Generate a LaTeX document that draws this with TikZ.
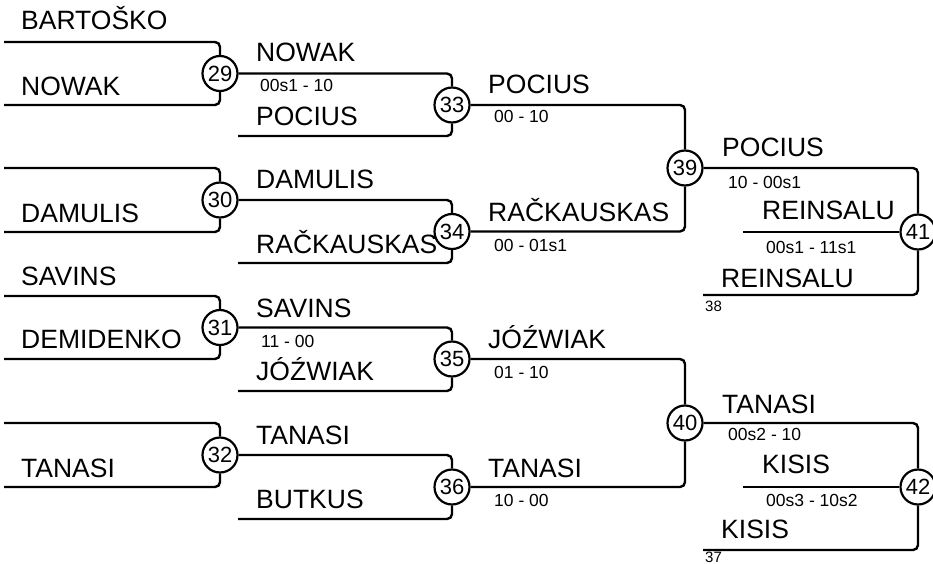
\documentclass[tikz,border=0pt]{standalone}
\usepackage{fontspec}
\setmainfont{Liberation Sans}
\begin{document}
\begin{tikzpicture}[x=1pt,y=-1pt,
  line width=2.4pt,
  match/.style={circle,draw,line width=2.2pt,minimum size=35pt,inner sep=0pt,fill=white,font=\fontsize{22}{24}\selectfont},
  nm/.style={anchor=base west,inner sep=0pt,font=\fontsize{26.5}{30}\selectfont},
  sc/.style={anchor=base west,inner sep=0pt,font=\fontsize{17.5}{20}\selectfont},
  sm/.style={anchor=base west,inner sep=0pt,font=\fontsize{15}{17}\selectfont},
  br/.style={rounded corners=5pt}]
\useasboundingbox (0,0) rectangle (933,564);
% match circles
\node[match] (c29) at (220,73.5) {29};
\node[match] (c30) at (220,200) {30};
\node[match] (c31) at (220,327.5) {31};
\node[match] (c32) at (220,455) {32};
\node[match] (c33) at (452,105) {33};
\node[match] (c34) at (452,231.5) {34};
\node[match] (c35) at (452,359) {35};
\node[match] (c36) at (452,487) {36};
\node[match] (c39) at (685,168) {39};
\node[match] (c40) at (685,423) {40};
\node[match] (c41) at (918,232) {41};
\node[match] (c42) at (918,487) {42};
% free ends
\coordinate (a1) at (4,42);
\coordinate (a2) at (4,105);
\coordinate (a3) at (4,168);
\coordinate (a4) at (4,232);
\coordinate (a5) at (4,296);
\coordinate (a6) at (4,359);
\coordinate (a7) at (4,423);
\coordinate (a8) at (4,487);
\coordinate (b1) at (238,136);
\coordinate (b2) at (238,263);
\coordinate (b3) at (238,391);
\coordinate (b4) at (238,519);
\coordinate (d1) at (703,295);
\coordinate (d2) at (703,550);
\coordinate (m1) at (743,232);
\coordinate (m2) at (743,487);
% round 1
\draw[br] (a1) -| (c29.north);
\draw[br] (a2) -| (c29.south);
\draw[br] (a3) -| (c30.north);
\draw[br] (a4) -| (c30.south);
\draw[br] (a5) -| (c31.north);
\draw[br] (a6) -| (c31.south);
\draw[br] (a7) -| (c32.north);
\draw[br] (a8) -| (c32.south);
% round 2
\draw[br] (c29.east) -| (c33.north);
\draw[br] (b1) -| (c33.south);
\draw[br] (c30.east) -| (c34.north);
\draw[br] (b2) -| (c34.south);
\draw[br] (c31.east) -| (c35.north);
\draw[br] (b3) -| (c35.south);
\draw[br] (c32.east) -| (c36.north);
\draw[br] (b4) -| (c36.south);
% round 3
\draw[br] (c33.east) -| (c39.north);
\draw[br] (c34.east) -| (c39.south);
\draw[br] (c35.east) -| (c40.north);
\draw[br] (c36.east) -| (c40.south);
% round 4
\draw[br] (c39.east) -| (c41.north);
\draw[br] (d1) -| (c41.south);
\draw (m1) -- (c41.west);
\draw[br] (c40.east) -| (c42.north);
\draw[br] (d2) -| (c42.south);
\draw (m2) -- (c42.west);
% names round 1
\node[nm] (n1) at (20,30) {BARTOŠKO};
\node[nm] (n2) at (20,96) {NOWAK};
\node[nm] (n3) at (20,222) {DAMULIS};
\node[nm] (n4) at (20,285) {SAVINS};
\node[nm] (n5) at (20,348) {DEMIDENKO};
\node[nm] (n6) at (20,477) {TANASI};
% names round 2
\node[nm] (n7) at (255,62) {NOWAK};
\node[nm] (n8) at (255,126) {POCIUS};
\node[nm] (n9) at (255,189) {DAMULIS};
\node[nm] (n10) at (255,253) {RAČKAUSKAS};
\node[nm] (n11) at (255,317) {SAVINS};
\node[nm] (n12) at (255,380) {JÓŹWIAK};
\node[nm] (n13) at (255,444) {TANASI};
\node[nm] (n14) at (255,508) {BUTKUS};
% names round 3
\node[nm] (n15) at (487,94) {POCIUS};
\node[nm] (n16) at (487,221) {RAČKAUSKAS};
\node[nm] (n17) at (487,348) {JÓŹWIAK};
\node[nm] (n18) at (487,477) {TANASI};
% names round 4
\node[nm] (n19) at (721,157) {POCIUS};
\node[nm] (n20) at (761,219) {REINSALU};
\node[nm] (n21) at (720,287) {REINSALU};
\node[nm] (n22) at (721,413) {TANASI};
\node[nm] (n23) at (761,473) {KISIS};
\node[nm] (n24) at (720,538) {KISIS};
% scores
\node[sc] (s1) at (259,92) {00s1 - 10};
\node[sc] (s2) at (260,347) {11 - 00};
\node[sc] (s3) at (493,123) {00 - 10};
\node[sc] (s4) at (493,251) {00 - 01s1};
\node[sc] (s5) at (493,378) {01 - 10};
\node[sc] (s6) at (493,506) {10 - 00};
\node[sc] (s7) at (727,188) {10 - 00s1};
\node[sc] (s8) at (765,253) {00s1 - 11s1};
\node[sc] (s9) at (727,440) {00s2 - 10};
\node[sc] (s10) at (765,506) {00s3 - 10s2};
\node[sm] (l38) at (704,311) {38};
\node[sm] (l37) at (704,562.5) {37};
\end{tikzpicture}
\end{document}
